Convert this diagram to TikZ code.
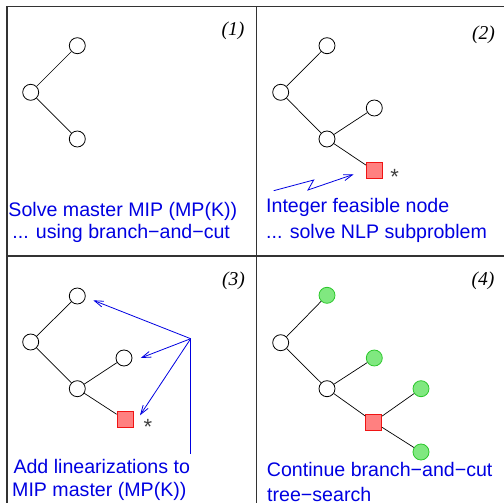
\documentclass[tikz,border=0pt]{standalone}
\usepackage{fontspec}
\setmainfont{Liberation Sans}
\newfontfamily\lserif{Liberation Serif}
\usetikzlibrary{arrows.meta,calc}
\definecolor{tblue}{RGB}{0,0,225}
\definecolor{sqfill}{RGB}{255,128,128}
\definecolor{sqdraw}{RGB}{240,20,20}
\definecolor{gfill}{RGB}{128,232,128}
\definecolor{gdraw}{RGB}{45,200,45}
\begin{document}
\begin{tikzpicture}[x=1pt,y=-1pt,
 wnode/.style={circle,draw=black,line width=0.8pt,fill=white,minimum size=16pt,inner sep=0pt},
 gnode/.style={circle,draw=gdraw,line width=0.8pt,fill=gfill,minimum size=16pt,inner sep=0pt},
 sqnode/.style={rectangle,draw=sqdraw,line width=0.8pt,fill=sqfill,minimum size=16pt,inner sep=0pt},
 edge/.style={draw=black,line width=0.7pt},
 frame/.style={draw=black!80,line width=1.1pt},
 caption/.style={anchor=base west,inner sep=0pt,text=tblue,font=\fontsize{19.6}{19.6}\selectfont},
 plabel/.style={anchor=base,inner sep=0pt,font=\lserif\itshape\fontsize{19.6}{19.6}\selectfont},
 starmark/.style={anchor=base,inner sep=0pt,text=black!75,font=\fontsize{22}{22}\selectfont},
 barrow/.style={draw=tblue,line width=0.8pt,-{Straight Barb[length=9pt,width=6pt]}}
]
\useasboundingbox (0,0) rectangle (504,503);
% frame
\draw[frame] (7,503) -- (7,6.5) -- (504,6.5);
\draw[frame] (256.5,6.5) -- (256.5,503);
\draw[frame] (7,256) -- (504,256);

% panel 1
\node[wnode] (a1) at (30.7,92.3) {};
\node[wnode] (a2) at (77.3,45.7) {};
\node[wnode] (a3) at (77.3,139) {};
\draw[edge] (a1) -- (a2);
\draw[edge] (a1) -- (a3);
\node[plabel] (l1) at (233,36) {(1)};
\node[caption] (t1a) at (8.3,216.5) {Solve master MIP (MP(K))};
\node[caption] (t1b) at (12.2,238.5) {... using branch−and−cut};

% panel 2
\node[wnode] (b1) at (280.7,92.3) {};
\node[wnode] (b2) at (327,45.7) {};
\node[wnode] (b3) at (327,139) {};
\node[wnode] (b4) at (374.3,108) {};
\node[sqnode] (b5) at (374.3,170.7) {};
\draw[edge] (b1) -- (b2);
\draw[edge] (b1) -- (b3);
\draw[edge] (b3) -- (b4);
\draw[edge] (b3) -- (b5);
\node[starmark] (bs) at (394.7,184) {*};
\coordinate (z0) at (273.7,190.7);
\draw[barrow] (z0) -- (313.7,180) -- (308,190) -- ($(b5)+(-20.6,3.6)$);
\node[plabel] (l2) at (483.5,40) {(2)};
\node[caption] (t2a) at (266,212.5) {Integer feasible node};
\node[caption] (t2b) at (266,238.5) {... solve NLP subproblem};

% panel 3
\node[wnode] (c1) at (30.7,342) {};
\node[wnode] (c2) at (77.3,296) {};
\node[wnode] (c3) at (77.3,388.7) {};
\node[wnode] (c4) at (124,358) {};
\node[sqnode] (c5) at (125,419.7) {};
\draw[edge] (c1) -- (c2);
\draw[edge] (c1) -- (c3);
\draw[edge] (c3) -- (c4);
\draw[edge] (c3) -- (c5);
\node[starmark] (cs) at (148,434.4) {*};
\coordinate (hub) at (190.7,338.7);
\coordinate (foot) at (190.7,453.7);
\draw[draw=tblue,line width=0.8pt] (foot) -- (hub);
\draw[barrow] (hub) -- ($(c2)+(16,4.3)$);
\draw[barrow] (hub) -- ($(c4)+(16.7,0)$);
\draw[barrow] (hub) -- ($(c5)+(15,-4.4)$);
\node[plabel] (l3) at (233.5,285) {(3)};
\node[caption] (t3a) at (13.3,473.3) {Add linearizations to};
\node[caption] (t3b) at (12,496) {MIP master (MP(K))};

% panel 4
\node[wnode] (d1) at (280.7,342.7) {};
\node[gnode] (d2) at (327,295.3) {};
\node[wnode] (d3) at (327,388.7) {};
\node[gnode] (d4) at (374.3,358) {};
\node[sqnode] (d5) at (373.7,422) {};
\node[gnode] (d6) at (421,388.7) {};
\node[gnode] (d7) at (421,452) {};
\draw[edge] (d1) -- (d2);
\draw[edge] (d1) -- (d3);
\draw[edge] (d3) -- (d4);
\draw[edge] (d3) -- (d5);
\draw[edge] (d5) -- (d6);
\draw[edge] (d5) -- (d7);
\node[plabel] (l4) at (483,285) {(4)};
\node[caption] (t4a) at (266.7,476.7) {Continue branch−and−cut};
\node[caption] (t4b) at (267,501.7) {tree−search};
\end{tikzpicture}
\end{document}
